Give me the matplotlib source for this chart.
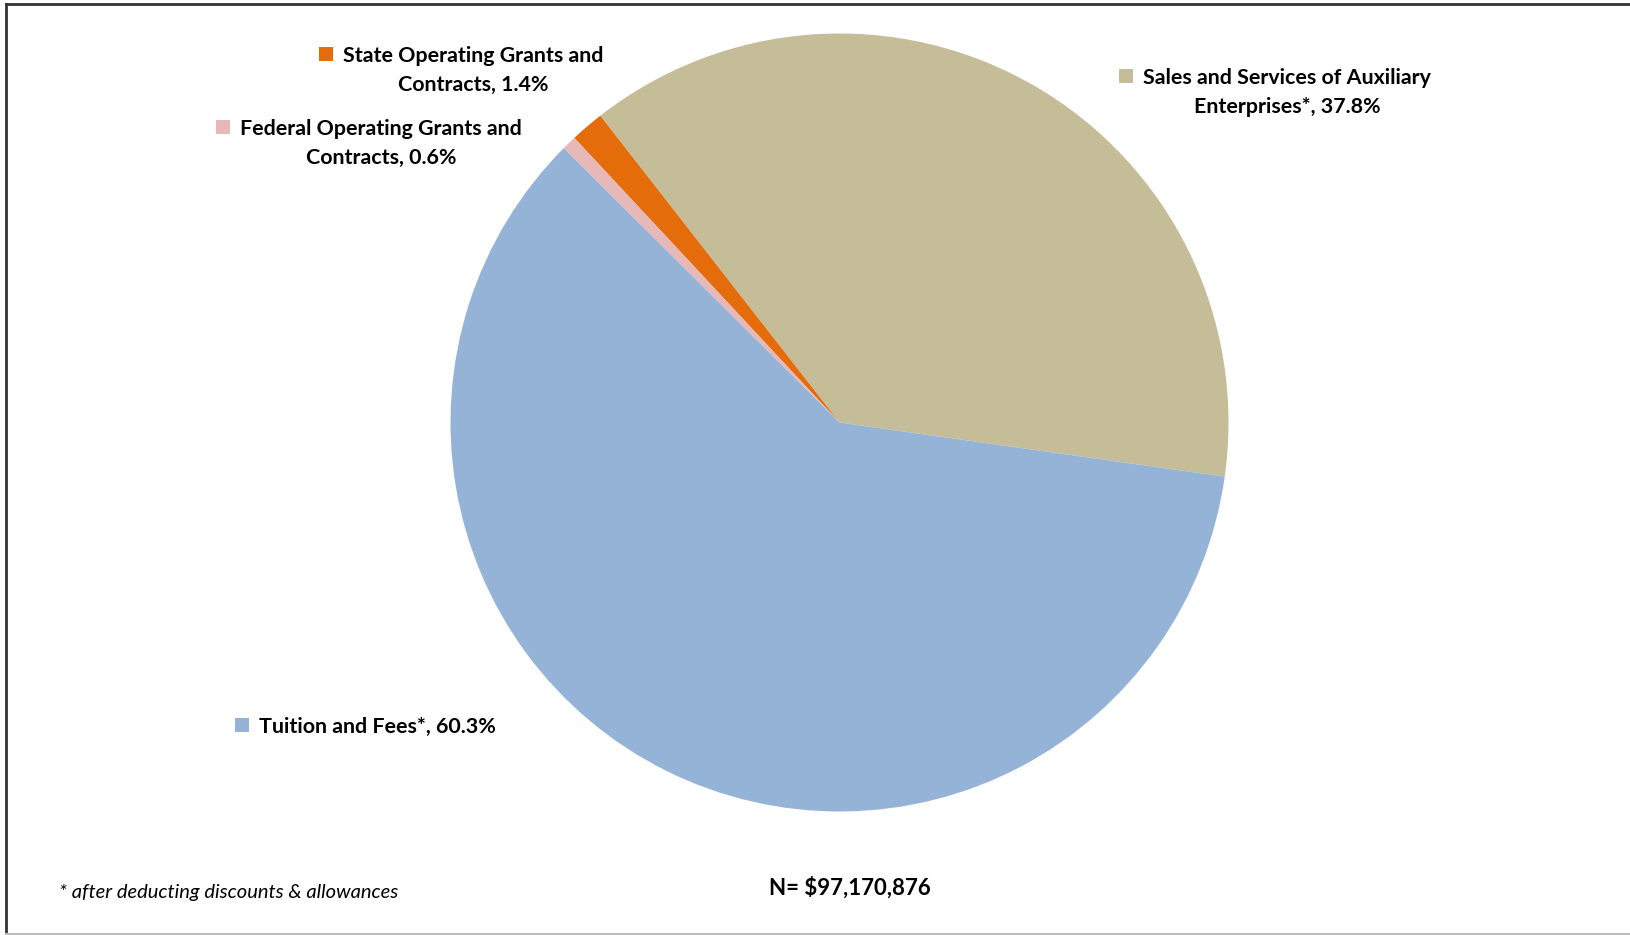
import matplotlib
matplotlib.use('Agg')
import matplotlib.pyplot as plt
from matplotlib.lines import Line2D

# Operating revenue shares (percent)
labels = ['Sales and Services of Auxiliary\nEnterprises*',
          'State Operating Grants and\nContracts',
          'Federal Operating Grants and\nContracts',
          'Tuition and Fees*']
shares = [37.8, 1.4, 0.6, 60.3]
colors = ['#C4BD97', '#E46C0A', '#E6B9B8', '#95B3D7']
total_text = 'N= $97,170,876'
footnote = '* after deducting discounts & allowances'

W, H = 1631, 935
plt.rcParams['font.family'] = ['Lato', 'DejaVu Sans']

fig = plt.figure(figsize=(W / 100, H / 100), dpi=100)
ax = fig.add_axes([0, 0, 1, 1])

ax.pie(shares, colors=colors, startangle=-8, counterclock=True,
       center=(839.5, H - 422.5), radius=389, frame=True,
       wedgeprops=dict(linewidth=0))
ax.set_xlim(0, W)
ax.set_ylim(0, H)
ax.set_aspect('equal')
ax.axis('off')

# label centres (x of centred text, y of first line) in pixel coords from top
label_pos = [(1287, 76), (473, 54), (381, 127), (377, 725)]
line_gap = 29
fig.canvas.draw()
renderer = fig.canvas.get_renderer()
for lab, val, col, (x, y) in zip(labels, shares, colors, label_pos):
    lines = f'{lab}, {val}%'.split('\n')
    first = None
    for i, line in enumerate(lines):
        t = ax.text(x, H - y - i * line_gap, line, ha='center',
                    va='center_baseline', fontsize=15.4, fontweight='bold')
        if first is None:
            first = t
    bb = first.get_window_extent(renderer)
    ax.scatter([bb.x0 - 17], [H - y], marker='s', s=90, color=col, linewidths=0)

ax.text(850, H - 886, total_text, ha='center', va='center_baseline', fontsize=16,
        fontweight='bold')
ax.text(59, H - 891, footnote, ha='left', va='center_baseline', fontsize=14.5,
        style='italic')

# chart border
fig.add_artist(Line2D([6 / W, 1], [1 - 4 / H, 1 - 4 / H], color='#333333', lw=2))
fig.add_artist(Line2D([6 / W, 6 / W], [1 / H, 1 - 4 / H], color='#333333', lw=2))
fig.add_artist(Line2D([6 / W, 1], [1 / H, 1 / H], color='#BBBBBB', lw=1.5))

fig.savefig('out.png', dpi=100)
